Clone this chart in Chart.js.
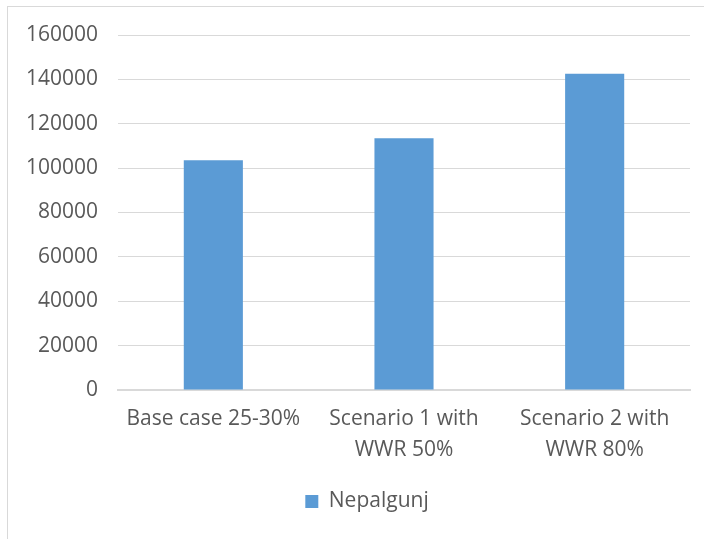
<!DOCTYPE html>
<html>
<head>
<meta charset="utf-8">
<script src="https://cdn.jsdelivr.net/npm/chart.js@4.4.1/dist/chart.umd.min.js"></script>
<style>
  html, body { margin: 0; padding: 0; background: #fff; }
  #wrap { position: relative; width: 704px; height: 539px; }
  #frame {
    position: absolute; left: 7px; top: 6px; right: 0; bottom: 0;
    border-top: 1px solid #d9d9d9; border-left: 1px solid #d9d9d9;
    pointer-events: none;
  }
  canvas { position: absolute; left: 0; top: 0; }
</style>
</head>
<body>
<div id="wrap">
  <canvas id="chart" width="704" height="539"></canvas>
  <div id="frame"></div>
</div>
<script>
const categories = [
  ["Base case 25-30%"],
  ["Scenario 1 with", "WWR 50%"],
  ["Scenario 2 with", "WWR 80%"]
];
const seriesName = "Nepalgunj";
const values = [103500, 113500, 142500];
const yMin = 0;
const yMax = 160000;
const yStep = 20000;

const textColor = "#595959";
const gridColor = "#d9d9d9";
const barColor = "#5b9bd5";
const fontFamily = "'Open Sans', 'Liberation Sans', sans-serif";

// nudge the legend a little right, like the original sits
const legendShift = {
  id: "legendShift",
  afterLayout(chart) {
    const lg = chart.legend;
    if (!lg) return;
    lg.left += 22;
    lg.right += 22;
  }
};

const chart = new Chart(document.getElementById("chart"), {
  type: "bar",
  data: {
    labels: categories,
    datasets: [
      {
        label: seriesName,
        data: values,
        backgroundColor: barColor,
        borderWidth: 0,
        categoryPercentage: 1,
        barPercentage: 0.31
      }
    ]
  },
  options: {
    responsive: false,
    animation: false,
    devicePixelRatio: 1,
    layout: { padding: { left: 0, right: 14, top: 35, bottom: 17 } },
    scales: {
      x: {
        grid: { display: false, drawTicks: false },
        border: { color: gridColor, width: 2 },
        ticks: {
          color: textColor,
          font: { family: fontFamily, size: 21, lineHeight: 1.45 },
          padding: 14,
          maxRotation: 0,
          autoSkip: false
        },
        afterFit: (scale) => { scale.height = 91; }
      },
      y: {
        min: yMin,
        max: yMax,
        grid: { color: gridColor, lineWidth: 1, drawTicks: false },
        border: { display: false },
        ticks: {
          stepSize: yStep,
          color: textColor,
          font: { family: fontFamily, size: 21 },
          padding: 20,
          callback: (v) => String(v)
        },
        afterFit: (scale) => { scale.width = 118; }
      }
    },
    plugins: {
      tooltip: { enabled: false },
      legend: {
        position: "bottom",
        labels: {
          color: textColor,
          font: { family: fontFamily, size: 21 },
          boxWidth: 13,
          boxHeight: 13,
          padding: 10
        }
      }
    }
  },
  plugins: [legendShift]
});
</script>
</body>
</html>
